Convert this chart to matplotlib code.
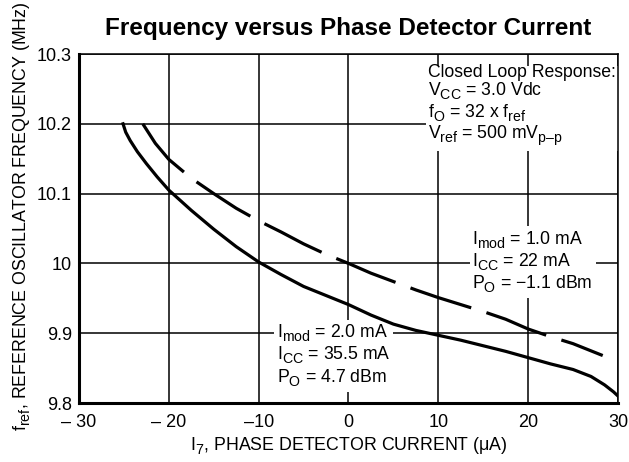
import matplotlib
matplotlib.use("Agg")
import matplotlib.pyplot as plt
import matplotlib._mathtext as mt

plt.rcParams['font.family'] = ['Liberation Sans', 'DejaVu Sans']
plt.rcParams['mathtext.fontset'] = 'custom'
plt.rcParams['mathtext.rm'] = 'Liberation Sans'
# indices un peu plus gros et plus bas, comme sur la fiche technique
mt.SHRINK_FACTOR = 0.8
mt.FontConstantsBase.sub1 = 0.45

# courbe Imod = 2.0 mA (trait plein)
i_solid = [-25.1, -24.8, -24.3, -23.5, -22.5, -21.3, -20, -17.5, -15, -12.5, -10, -7.5,
           -5, -2.5, 0, 2.5, 5, 7.5, 10, 12.5, 15, 17.5, 20, 22.5, 25, 27, 28.5, 29.5, 30]
f_solid = [10.2, 10.188, 10.176, 10.16, 10.143, 10.124, 10.105, 10.076, 10.049, 10.024,
           10.002, 9.984, 9.967, 9.954, 9.941, 9.926, 9.913, 9.904, 9.897, 9.890, 9.882,
           9.874, 9.865, 9.856, 9.848, 9.838, 9.826, 9.816, 9.81]

# courbe Imod = 1.0 mA (tirets)
i_dash = [-22.9, -21.5, -20, -17.5, -15, -12.5, -10, -7.5, -5, -2.5, 0, 2.5, 5,
          7.5, 10, 12.5, 15, 17.5, 20, 22.5, 25, 28.3]
f_dash = [10.2, 10.172, 10.149, 10.122, 10.100, 10.079, 10.061, 10.045, 10.028, 10.013,
          10.0, 9.986, 9.974, 9.962, 9.951, 9.941, 9.931, 9.920, 9.906, 9.895, 9.885, 9.868]

xticks = [-30, -20, -10, 0, 10, 20, 30]
xticklabels = ['\u2013 30', '\u2013 20', '\u201310', '0', '10', '20', '30']
yticks = [9.8, 9.9, 10.0, 10.1, 10.2, 10.3]
yticklabels = ['9.8', '9.9', '10', '10.1', '10.2', '10.3']

fig = plt.figure(figsize=(6.29, 4.62), dpi=100)
ax = fig.add_axes([0.1256, 0.1277, 0.8569, 0.7554])

ax.plot(i_solid, f_solid, color='black', lw=2.3, zorder=3)
ax.plot(i_dash, f_dash, color='black', lw=2.3, dashes=(20, 5), zorder=3)

ax.set_xlim(-30, 30)
ax.set_ylim(9.8, 10.3)
ax.set_xticks(xticks)
ax.set_xticklabels(xticklabels)
ax.set_yticks(yticks)
ax.set_yticklabels(yticklabels)
ax.tick_params(length=0, labelsize=13)
ax.tick_params(axis='x', pad=8)
ax.tick_params(axis='y', pad=5)
ax.grid(True, color='black', lw=1.1)
ax.set_axisbelow(True)
for s in ['left', 'bottom']:
    ax.spines[s].set_linewidth(2.2)
for s in ['top', 'right']:
    ax.spines[s].set_linewidth(1.1)

ax.set_xlabel(r'$\mathregular{I_7}$, PHASE DETECTOR CURRENT ($\mathregular{\mu}$A)', fontsize=12.8, labelpad=3)
ax.set_ylabel(r'$\mathregular{f_{ref}}$, REFERENCE OSCILLATOR FREQUENCY (MHz)', fontsize=12.8)
ax.yaxis.set_label_coords(-0.0855, 0.536)
ax.set_title('Frequency versus Phase Detector Current', fontsize=17.5, fontweight='bold', pad=14)

box = dict(facecolor='white', edgecolor='none', pad=2)
ax.text(8.9, 10.286, 'Closed Loop Response:\n'
        r'$\mathregular{V_{CC}}$ = 3.0 Vdc' '\n'
        r'$\mathregular{f_O}$ = 32 x $\mathregular{f_{ref}}$' '\n'
        r'$\mathregular{V_{ref}}$ = 500 m$\mathregular{V_{p' '\u2013' r'p}}$',
        fontsize=12.7, va='top', ha='left', bbox=box, linespacing=1.0, zorder=2)
ax.text(13.8, 10.049, r'$\mathregular{I_{mod}}$ = 1.0 mA' '\n'
        r'$\mathregular{I_{CC}}$ = 22 mA' '\n'
        r'$\mathregular{P_O}$ = ' '\u22121.1 dBm',
        fontsize=12.7, va='top', ha='left', bbox=box, linespacing=1.05, zorder=2)
ax.text(-8.0, 9.915, r'$\mathregular{I_{mod}}$ = 2.0 mA' '\n'
        r'$\mathregular{I_{CC}}$ = 35.5 mA' '\n'
        r'$\mathregular{P_O}$ = 4.7 dBm',
        fontsize=12.7, va='top', ha='left', bbox=box, linespacing=1.05, zorder=2)

fig.savefig('out.png', dpi=100)
